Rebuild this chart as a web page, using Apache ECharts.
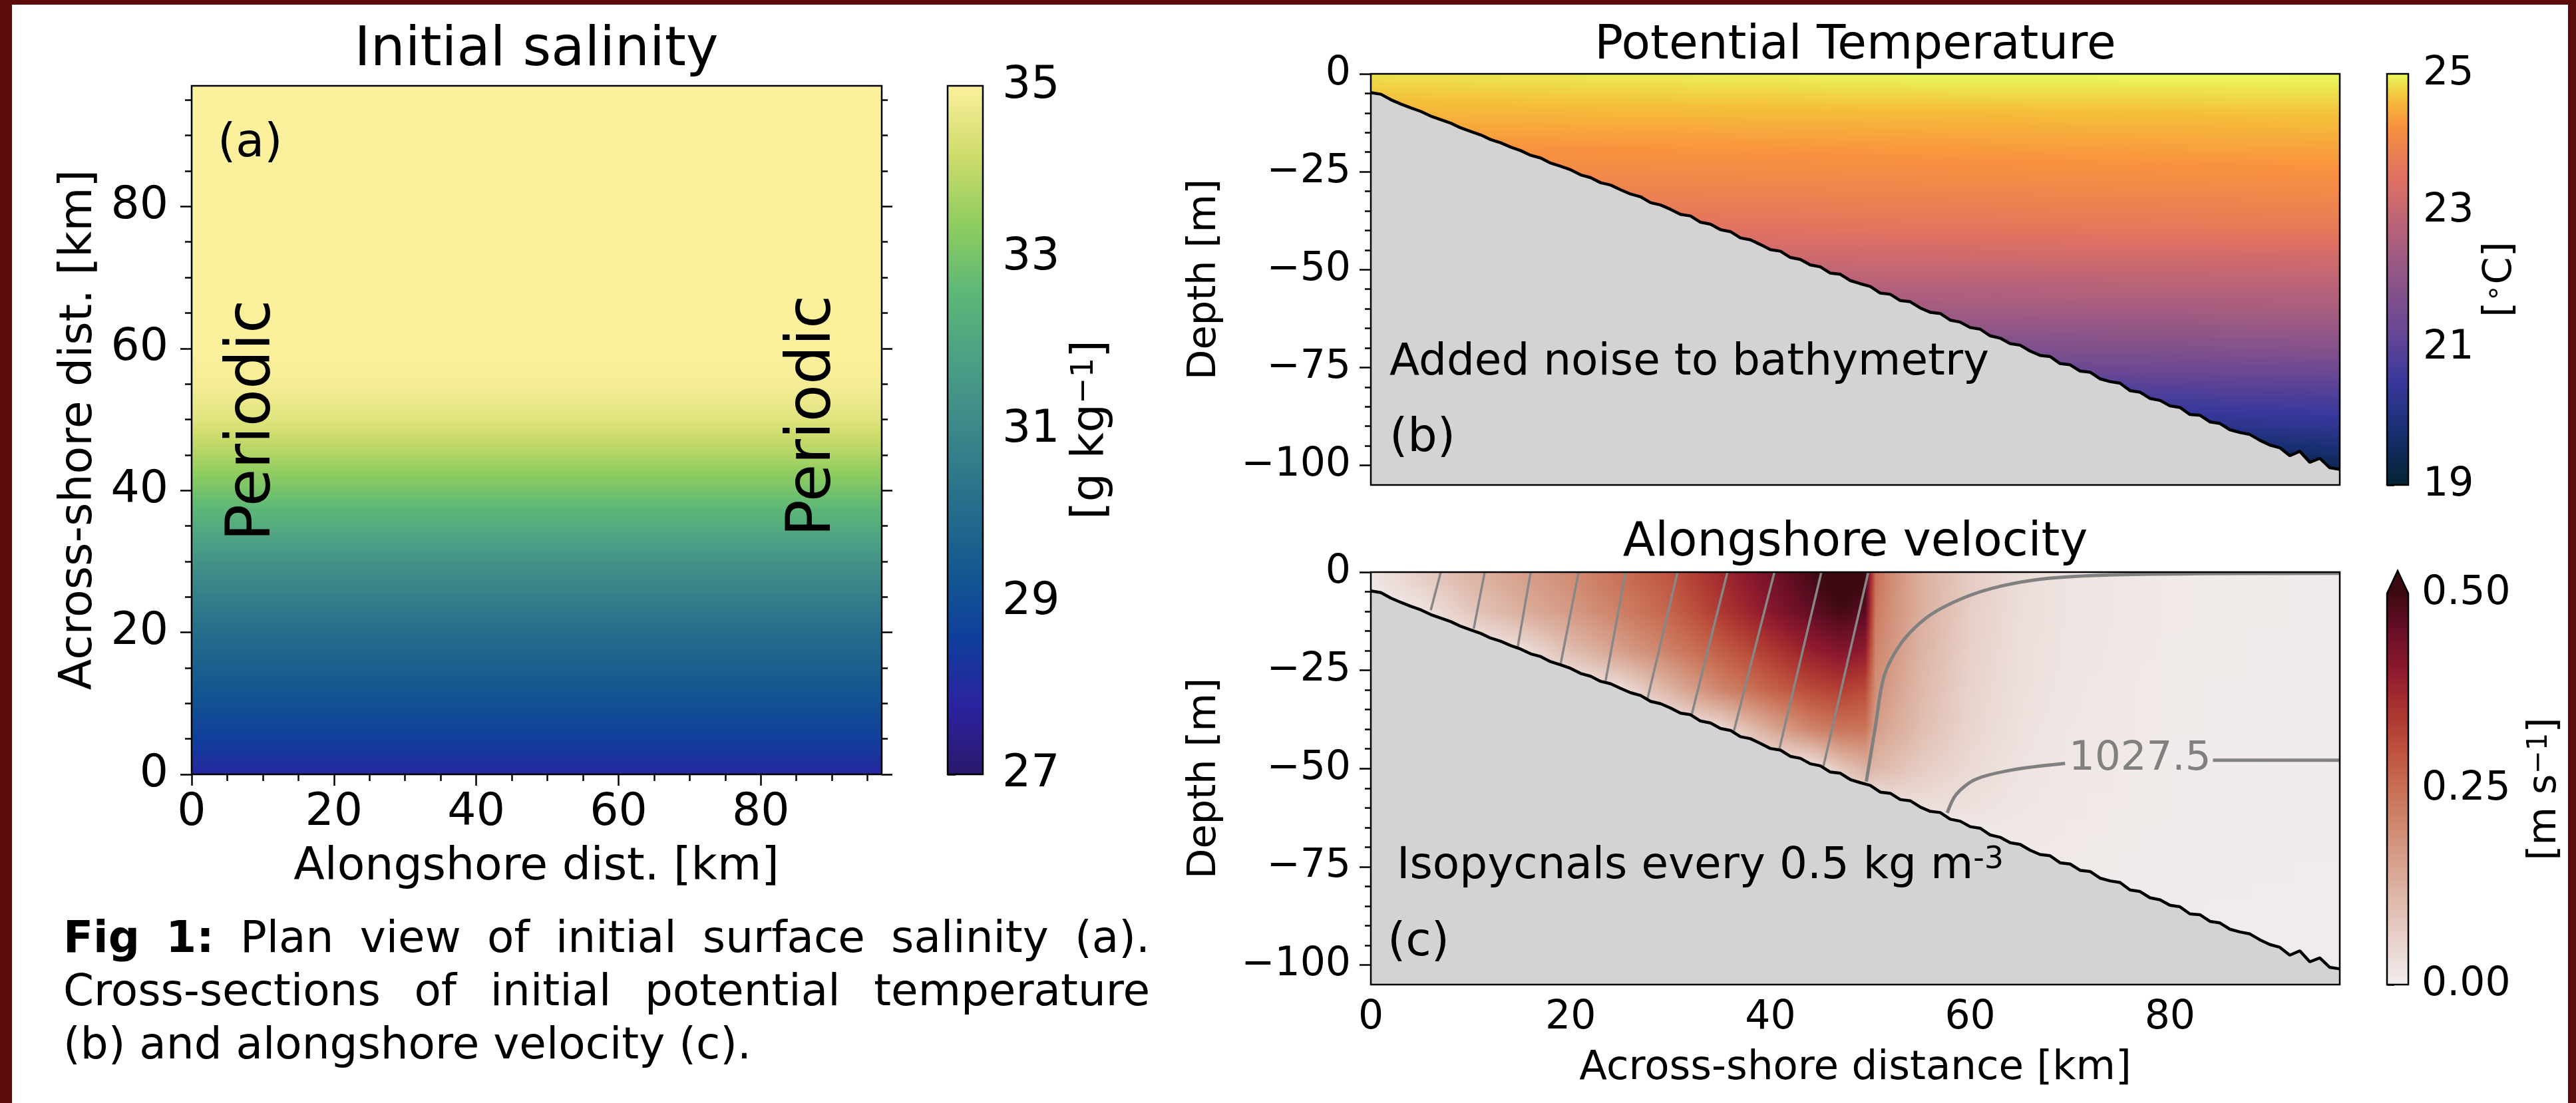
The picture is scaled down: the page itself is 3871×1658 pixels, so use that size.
<!DOCTYPE html>
<html>
<head>
<meta charset="utf-8">
<title>Fig 1</title>
<script src="https://cdn.jsdelivr.net/npm/echarts@6/dist/echarts.min.js"></script>
<style>
html,body{margin:0;padding:0;background:#ffffff;}
#chart{width:3871px;height:1658px;}
</style>
</head>
<body>
<div id="chart"></div>
<script>
// ================= DATA =================
// tick values
const distTicks = [0, 20, 40, 60, 80];
const distMinorTicks = [5, 10, 15, 25, 30, 35, 45, 50, 55, 65, 70, 75, 85, 90, 95];
const depthTicks = [0, -25, -50, -75, -100];
const depthMinorTicks = [-5, -10, -15, -20, -30, -35, -40, -45, -55, -60, -65, -70, -80, -85, -90, -95];
const salTicks = [27, 29, 31, 33, 35];
const tempTicks = [19, 21, 23, 25];
const velTicks = [0, 0.25, 0.5];

// axis extents
const domainKm = [0, 97];
const depthRange = [-105, 0];
const salRange = [27, 35];
const tempRange = [19, 25];
const velRange = [0, 0.5];

// (a) initial surface salinity vs across-shore distance (uniform alongshore)
const salDist = [0, 5, 10, 15, 20, 25, 30, 35, 40, 45, 50, 55, 60, 97];
const salinity = [27.9, 28.6, 29.1, 29.6, 30.1, 30.7, 31.4, 32.2, 33.0, 33.8, 34.5, 34.9, 35.0, 35.0];

// bathymetry (with noise), every 1 km
const bathyDist = [0,1,2,3,4,5,6,7,8,9,10,11,12,13,14,15,16,17,18,19,20,21,22,23,24,25,26,27,28,29,30,31,32,33,34,35,36,37,38,39,40,41,42,43,44,45,46,47,48,49,50,51,52,53,54,55,56,57,58,59,60,61,62,63,64,65,66,67,68,69,70,71,72,73,74,75,76,77,78,79,80,81,82,83,84,85,86,87,88,89,90,91,92,93,94,95,96,97];
const bathyDepth = [-4.8,-5.2,-6.6,-7.7,-8.7,-9.6,-10.8,-11.7,-12.6,-13.8,-14.7,-15.6,-16.8,-17.6,-18.7,-19.6,-20.8,-21.5,-22.8,-23.6,-24.5,-25.8,-26.5,-27.8,-28.4,-29.6,-30.7,-31.4,-32.9,-33.5,-34.6,-35.9,-36.3,-37.9,-38.4,-39.8,-40.3,-41.9,-42.4,-43.6,-44.9,-45.3,-46.9,-47.4,-48.8,-49.3,-50.9,-51.2,-52.8,-53.6,-54.3,-56.0,-56.3,-57.9,-58.2,-59.8,-60.9,-61.2,-62.9,-63.4,-64.8,-65.2,-66.9,-67.5,-68.9,-69.3,-70.8,-71.9,-72.2,-74.0,-74.3,-75.9,-76.2,-77.9,-78.6,-79.0,-80.9,-81.3,-82.9,-83.4,-84.8,-85.2,-87.0,-87.2,-88.9,-89.3,-90.9,-91.6,-92.1,-93.6,-94.8,-95.5,-97.5,-96.4,-99.2,-98.2,-100.6,-101.0];

// (b) potential temperature [degC]; rows = depth, columns = across-shore distance
const tempDist = [0, 20, 40, 60, 80, 97];
const tempDepth = [0, -10, -20, -30, -40, -50, -60, -70, -80, -90, -100, -105];
const temperature = [
  [24.85, 24.90, 24.95, 25.00, 25.00, 25.00],
  [24.55, 24.58, 24.60, 24.62, 24.65, 24.68],
  [24.20, 24.22, 24.25, 24.30, 24.35, 24.38],
  [23.85, 23.88, 23.92, 23.97, 24.02, 24.06],
  [23.45, 23.48, 23.52, 23.58, 23.64, 23.68],
  [22.90, 22.92, 22.95, 22.98, 23.02, 23.05],
  [22.30, 22.32, 22.35, 22.40, 22.45, 22.50],
  [21.60, 21.62, 21.65, 21.70, 21.78, 21.85],
  [20.80, 20.80, 20.85, 20.90, 20.95, 21.00],
  [19.95, 19.95, 20.00, 20.05, 20.15, 20.30],
  [19.20, 19.20, 19.20, 19.25, 19.30, 19.45],
  [19.00, 19.00, 19.00, 19.00, 19.05, 19.10]
];

// (c) alongshore velocity [m/s]; rows = depth, columns = across-shore distance
const velDist = [0, 5, 10, 15, 20, 25, 30, 35, 40, 44, 47, 49.5, 50.5, 52, 55, 60, 65, 70, 80, 97];
const velDepth = [0, -10, -20, -30, -40, -50, -60, -70, -105];
const velocity = [
  [0.02, 0.07, 0.12, 0.16, 0.20, 0.25, 0.30, 0.37, 0.44, 0.49, 0.54, 0.51, 0.25, 0.20, 0.13, 0.070, 0.035, 0.020, 0.008, 0.004],
  [0.00, 0.02, 0.08, 0.13, 0.17, 0.22, 0.27, 0.34, 0.41, 0.46, 0.49, 0.47, 0.23, 0.19, 0.13, 0.065, 0.033, 0.019, 0.008, 0.004],
  [0.00, 0.00, 0.00, 0.03, 0.10, 0.16, 0.22, 0.28, 0.34, 0.39, 0.42, 0.40, 0.21, 0.18, 0.12, 0.060, 0.030, 0.018, 0.007, 0.004],
  [0.00, 0.00, 0.00, 0.00, 0.00, 0.03, 0.12, 0.21, 0.27, 0.31, 0.33, 0.31, 0.19, 0.16, 0.11, 0.055, 0.028, 0.016, 0.006, 0.004],
  [0.00, 0.00, 0.00, 0.00, 0.00, 0.00, 0.00, 0.04, 0.14, 0.21, 0.24, 0.24, 0.16, 0.14, 0.10, 0.050, 0.025, 0.014, 0.006, 0.004],
  [0.00, 0.00, 0.00, 0.00, 0.00, 0.00, 0.00, 0.00, 0.00, 0.01, 0.08, 0.12, 0.11, 0.10, 0.07, 0.040, 0.020, 0.012, 0.005, 0.003],
  [0.00, 0.00, 0.00, 0.00, 0.00, 0.00, 0.00, 0.00, 0.00, 0.00, 0.00, 0.00, 0.00, 0.02, 0.03, 0.025, 0.015, 0.010, 0.005, 0.003],
  [0.00, 0.00, 0.00, 0.00, 0.00, 0.00, 0.00, 0.00, 0.00, 0.00, 0.00, 0.00, 0.00, 0.00, 0.00, 0.000, 0.010, 0.008, 0.004, 0.003],
  [0.00, 0.00, 0.00, 0.00, 0.00, 0.00, 0.00, 0.00, 0.00, 0.00, 0.00, 0.00, 0.00, 0.00, 0.00, 0.000, 0.000, 0.000, 0.002, 0.002]
];

// isopycnals (every 0.5 kg m^-3): thin near-vertical lines, bottom point -> surface
const isoBottomDist = [6.0, 10.3, 14.7, 19.0, 23.5, 27.7, 32.1, 36.3, 40.9, 45.3];
const isoBottomDepth = [-9.7, -14.4, -19.1, -23.4, -27.7, -32.2, -36.5, -40.9, -45.0, -49.5];
const isoTopDist = [7.0, 11.4, 16.0, 20.8, 25.5, 30.7, 35.7, 40.4, 45.1, 49.8];
// thick curved isopycnal reaching the surface offshore
const isoCurveDist = [49.6, 50.5, 51.4, 53.2, 55.9, 59.5, 63.2, 67.7, 74.0, 83.0, 97.0];
const isoCurveDepth = [-53.3, -39.5, -26.3, -17.7, -11.1, -6.4, -3.5, -1.6, -0.7, -0.4, -0.3];
// 1027.5 isopycnal (broken by its label)
const iso1027LeftDist = [57.7, 58.6, 60.5, 64.1, 69.5];
const iso1027LeftDepth = [-61.3, -56.6, -52.8, -50.4, -48.7];
const iso1027RightDist = [84.3, 97.0];
const iso1027RightDepth = [-47.9, -47.9];
const iso1027Label = {text: '1027.5', dist: 77.0, depth: -47.6};

// ================= COLORMAPS =================
const halineStops = [[0, '#2a186c'], [0.1, '#2b239f'], [0.2, '#0f3f9b'], [0.3, '#145a8f'], [0.4, '#2a6f8b'], [0.5, '#3c8789'], [0.6, '#4b9f85'], [0.7, '#5db777'], [0.8, '#8fcd5f'], [0.9, '#cfdc6c'], [1, '#fbf09c']];
const thermalStops = [[0, '#042333'], [0.125, '#162e6f'], [0.25, '#39389c'], [0.375, '#684794'], [0.5, '#8d5588'], [0.625, '#b7627a'], [0.75, '#e07162'], [0.875, '#f9923f'], [0.94, '#f5be3a'], [1, '#e8fa5b']];
const ampStops = [[0, '#f1eded'], [0.1, '#e9d5cf'], [0.2, '#e0bdb0'], [0.3, '#d8a491'], [0.4, '#d08a72'], [0.5, '#c86f54'], [0.6, '#bd523e'], [0.7, '#ab3330'], [0.8, '#8f1a2e'], [0.9, '#6a0f27'], [1, '#3c0912']];

function makeCmap(stops) {
  const pos = stops.map(s => s[0]);
  const rgb = stops.map(s => [parseInt(s[1].slice(1,3),16), parseInt(s[1].slice(3,5),16), parseInt(s[1].slice(5,7),16)]);
  return function (t) {
    t = Math.max(0, Math.min(1, t));
    let i = 0;
    while (i < pos.length - 2 && t > pos[i + 1]) i++;
    const u = (t - pos[i]) / (pos[i + 1] - pos[i]);
    const a = rgb[i], b = rgb[i + 1];
    return 'rgb(' + Math.round(a[0] + (b[0]-a[0])*u) + ',' + Math.round(a[1] + (b[1]-a[1])*u) + ',' + Math.round(a[2] + (b[2]-a[2])*u) + ')';
  };
}
const haline = makeCmap(halineStops);
const thermal = makeCmap(thermalStops);
const amp = makeCmap(ampStops);

// ================= HELPERS =================
const FONT = 'DejaVu Sans';
const BLACK = '#000000';
const LW = 2.5;

const minusFmt = v => (v < 0 ? '\u2212' + Math.abs(v) : String(v));

function axis(grid, pos, range, ticks, len, label) {
  return {
    type: 'value', gridIndex: grid, position: pos, min: range[0], max: range[1],
    axisLine: {show: false}, splitLine: {show: false},
    axisTick: {show: true, inside: false, length: len, customValues: ticks, lineStyle: {color: BLACK, width: LW}},
    axisLabel: label ? Object.assign({show: true, customValues: ticks, color: BLACK, fontFamily: FONT}, label) : {show: false}
  };
}
function hiddenAxis(grid, range) {
  return {type: 'value', gridIndex: grid, min: range[0], max: range[1], show: false, splitLine: {show: false}};
}

function cellItems(xs, zs, vals) {
  const out = [];
  for (let j = 0; j < zs.length - 1; j++)
    for (let i = 0; i < xs.length - 1; i++)
      out.push([xs[i], zs[j], xs[i+1], zs[j+1], vals[j][i], vals[j][i+1], vals[j+1][i], vals[j+1][i+1]]);
  return out;
}

function fieldRenderer(cmap, range) {
  const span = range[1] - range[0];
  return function (params, api) {
    const pA = api.coord([api.value(0), api.value(1)]);
    const pB = api.coord([api.value(2), api.value(3)]);
    const v00 = api.value(4), v10 = api.value(5), v01 = api.value(6), v11 = api.value(7);
    const left = Math.min(pA[0], pB[0]), right = Math.max(pA[0], pB[0]);
    const top = Math.min(pA[1], pB[1]), bottom = Math.max(pA[1], pB[1]);
    const n = Math.max(1, Math.ceil((bottom - top) / 3));
    const h = (bottom - top) / n;
    const children = [];
    for (let k = 0; k < n; k++) {
      const t = (k + 0.5) / n;
      const vl = v00 + (v01 - v00) * t;
      const vr = v10 + (v11 - v10) * t;
      const stops = [];
      for (let s = 0; s <= 4; s++) {
        const u = s / 4;
        stops.push({offset: u, color: cmap((vl + (vr - vl) * u - range[0]) / span)});
      }
      children.push({
        type: 'rect',
        shape: {x: left, y: top + k * h, width: right - left + 0.8, height: h + 0.8},
        style: {fill: new echarts.graphic.LinearGradient(0, 0, 1, 0, stops)}
      });
    }
    return {type: 'group', children: children};
  };
}

function colorbarRenderer(cmap, withTriangle) {
  return function (params, api) {
    const pA = api.coord([api.value(0), api.value(1)]);
    const pB = api.coord([api.value(2), api.value(3)]);
    const stops = [];
    for (let s = 0; s <= 40; s++) stops.push({offset: s / 40, color: cmap(1 - s / 40)});
    const children = [{
      type: 'rect',
      shape: {x: pA[0], y: pB[1], width: pB[0] - pA[0], height: pA[1] - pB[1]},
      style: {fill: new echarts.graphic.LinearGradient(0, 0, 0, 1, stops)}
    }];
    if (withTriangle) {
      children.push({
        type: 'polygon',
        shape: {points: [[pA[0], pB[1]], [pB[0], pB[1]], [(pA[0] + pB[0]) / 2, pB[1] - 34]]},
        style: {fill: cmap(1)}
      });
    }
    return {type: 'group', children: children};
  };
}

// ================= SERIES =================
const salItems = [];
for (let i = 0; i < salDist.length - 1; i++) {
  salItems.push([domainKm[0], salDist[i], domainKm[1], salDist[i + 1], salinity[i], salinity[i + 1]]);
}
const bathyData = bathyDist.map((x, i) => [x, bathyDepth[i]]);

const series = [];
// (a) salinity field
series.push({
  type: 'custom', xAxisIndex: 0, yAxisIndex: 0, clip: true, z: 2, silent: true,
  data: salItems,
  renderItem: function (params, api) {
    const pBot = api.coord([api.value(0), api.value(1)]);
    const pTop = api.coord([api.value(2), api.value(3)]);
    const s0 = api.value(4), s1 = api.value(5);
    const stops = [];
    for (let k = 0; k <= 8; k++) {
      const u = k / 8;
      const v = s1 + (s0 - s1) * u;
      stops.push({offset: u, color: haline((v - salRange[0]) / (salRange[1] - salRange[0]))});
    }
    return {
      type: 'rect',
      shape: {x: pBot[0], y: pTop[1], width: pTop[0] - pBot[0], height: pBot[1] - pTop[1] + 0.8},
      style: {fill: new echarts.graphic.LinearGradient(0, 0, 0, 1, stops)}
    };
  }
});
// (a) colorbar
series.push({
  type: 'custom', xAxisIndex: 2, yAxisIndex: 4, z: 2, silent: true,
  data: [[0, salRange[0], 1, salRange[1]]],
  renderItem: colorbarRenderer(haline, false)
});
// (b) temperature field
series.push({
  type: 'custom', xAxisIndex: 3, yAxisIndex: 5, clip: true, z: 2, silent: true,
  data: cellItems(tempDist, tempDepth, temperature),
  renderItem: fieldRenderer(thermal, tempRange)
});
// (b) bathymetry
series.push({
  type: 'line', xAxisIndex: 3, yAxisIndex: 5, z: 5, silent: true, symbol: 'none',
  data: bathyData, lineStyle: {color: BLACK, width: 4.5},
  areaStyle: {color: '#d3d3d3', opacity: 1, origin: 'start'}
});
// (b) colorbar
series.push({
  type: 'custom', xAxisIndex: 5, yAxisIndex: 7, z: 2, silent: true,
  data: [[0, tempRange[0], 1, tempRange[1]]],
  renderItem: colorbarRenderer(thermal, false)
});
// (c) velocity field
series.push({
  type: 'custom', xAxisIndex: 6, yAxisIndex: 8, clip: true, z: 2, silent: true,
  data: cellItems(velDist, velDepth, velocity),
  renderItem: fieldRenderer(amp, velRange)
});
// (c) isopycnals
for (let i = 0; i < isoTopDist.length; i++) {
  series.push({
    type: 'line', xAxisIndex: 6, yAxisIndex: 8, z: 3, silent: true, symbol: 'none',
    data: [[isoBottomDist[i], isoBottomDepth[i]], [isoTopDist[i], 0]],
    lineStyle: {color: '#878787', width: 3.5}
  });
}
series.push({
  type: 'line', xAxisIndex: 6, yAxisIndex: 8, z: 3, silent: true, symbol: 'none', smooth: 0.3,
  data: isoCurveDist.map((x, i) => [x, isoCurveDepth[i]]),
  lineStyle: {color: '#808080', width: 5}
});
series.push({
  type: 'line', xAxisIndex: 6, yAxisIndex: 8, z: 3, silent: true, symbol: 'none', smooth: 0.3,
  data: iso1027LeftDist.map((x, i) => [x, iso1027LeftDepth[i]]),
  lineStyle: {color: '#808080', width: 5}
});
series.push({
  type: 'line', xAxisIndex: 6, yAxisIndex: 8, z: 3, silent: true, symbol: 'none',
  data: iso1027RightDist.map((x, i) => [x, iso1027RightDepth[i]]),
  lineStyle: {color: '#808080', width: 5}
});
series.push({
  type: 'custom', xAxisIndex: 6, yAxisIndex: 8, z: 4, silent: true,
  data: [[iso1027Label.dist, iso1027Label.depth]],
  renderItem: function (params, api) {
    const p = api.coord([api.value(0), api.value(1)]);
    return {type: 'text', x: p[0], y: p[1], style: {text: iso1027Label.text, fontSize: 61, fontFamily: FONT, fill: '#808080', align: 'center', verticalAlign: 'middle'}};
  }
});
// (c) bathymetry
series.push({
  type: 'line', xAxisIndex: 6, yAxisIndex: 8, z: 5, silent: true, symbol: 'none',
  data: bathyData, lineStyle: {color: BLACK, width: 4.5},
  areaStyle: {color: '#d3d3d3', opacity: 1, origin: 'start'}
});
// (c) colorbar with max-extension triangle
series.push({
  type: 'custom', xAxisIndex: 8, yAxisIndex: 10, z: 2, silent: true, clip: false,
  data: [[0, velRange[0], 1, velRange[1]]],
  renderItem: colorbarRenderer(amp, true)
});

// ================= LAYOUT =================
const G = {
  a:  {left: 288,  top: 129, width: 1037, height: 1035},
  ca: {left: 1424, top: 129, width: 53,   height: 1035},
  b:  {left: 2060, top: 111, width: 1456, height: 618},
  cb: {left: 3587, top: 111, width: 32,   height: 618},
  c:  {left: 2060, top: 860, width: 1456, height: 620},
  cc: {left: 3587, top: 892, width: 32,   height: 588}
};

const xAxes = [
  axis(0, 'bottom', domainKm, distTicks, 17, {fontSize: 68, margin: 24}),      // 0
  axis(0, 'bottom', domainKm, distMinorTicks, 10, null),                       // 1
  hiddenAxis(1, [0, 1]),                                                        // 2
  axis(2, 'bottom', domainKm, distTicks, 17, null),                            // 3
  axis(2, 'bottom', domainKm, distMinorTicks, 9, null),                        // 4
  hiddenAxis(3, [0, 1]),                                                        // 5
  axis(4, 'bottom', domainKm, distTicks, 17, {fontSize: 60, margin: 20}),      // 6
  axis(4, 'bottom', domainKm, distMinorTicks, 9, null),                        // 7
  hiddenAxis(5, [0, 1])                                                         // 8
];
const yAxes = [
  axis(0, 'left', domainKm, distTicks, 17, {fontSize: 68, margin: 35}),        // 0
  axis(0, 'left', domainKm, distMinorTicks, 10, null),                         // 1
  axis(0, 'right', domainKm, distTicks, 16, null),                             // 2
  axis(0, 'right', domainKm, distMinorTicks, 9, null),                         // 3
  axis(1, 'right', salRange, salTicks, 12, {fontSize: 68, margin: 29}),        // 4
  axis(2, 'left', depthRange, depthTicks, 17, {fontSize: 60, margin: 30, formatter: minusFmt}), // 5
  axis(2, 'left', depthRange, depthMinorTicks, 9, null),                       // 6
  axis(3, 'right', tempRange, tempTicks, 11, {fontSize: 60, margin: 22}),      // 7
  axis(4, 'left', depthRange, depthTicks, 17, {fontSize: 60, margin: 30, formatter: minusFmt}), // 8
  axis(4, 'left', depthRange, depthMinorTicks, 9, null),                       // 9
  axis(5, 'right', velRange, velTicks, 11, {fontSize: 60, margin: 20, formatter: v => v.toFixed(2)}) // 10
];

// ================= GRAPHIC (frames, texts) =================
function frame(g) {
  return {type: 'rect', z: 50, silent: true, shape: {x: g.left, y: g.top, width: g.width, height: g.height},
          style: {fill: 'none', stroke: BLACK, lineWidth: LW}};
}
function txt(text, x, y, size, extra) {
  extra = extra || {};
  const el = {type: 'text', z: 60, silent: true, x: x, y: y,
    style: Object.assign({text: text, fontSize: size, fontFamily: FONT, fill: BLACK, align: 'center', verticalAlign: 'middle'}, extra.style || {})};
  if (extra.rotation != null) el.rotation = extra.rotation;
  return el;
}

const graphics = [];
// figure border
const BORDER = '#5c0b0b';
graphics.push({type: 'rect', z: 70, silent: true, shape: {x: 0, y: 0, width: 18, height: 1658}, style: {fill: BORDER}});
graphics.push({type: 'rect', z: 70, silent: true, shape: {x: 0, y: 0, width: 3871, height: 7}, style: {fill: BORDER}});
graphics.push({type: 'rect', z: 70, silent: true, shape: {x: 3859, y: 0, width: 12, height: 1658}, style: {fill: BORDER}});

// frames
graphics.push(frame(G.a), frame(G.ca), frame(G.b), frame(G.cb), frame(G.c));
graphics.push({type: 'polygon', z: 50, silent: true,
  shape: {points: [[G.cc.left, G.cc.top + G.cc.height], [G.cc.left, G.cc.top], [G.cc.left + G.cc.width / 2, G.cc.top - 34], [G.cc.left + G.cc.width, G.cc.top], [G.cc.left + G.cc.width, G.cc.top + G.cc.height]]},
  style: {fill: 'none', stroke: BLACK, lineWidth: LW}});

// titles
graphics.push(txt('Initial salinity', 806, 77, 82));
graphics.push(txt('Potential Temperature', 2788, 70, 71));
graphics.push(txt('Alongshore velocity', 2788, 817, 71));
// axis names
graphics.push(txt('Alongshore dist. [km]', 806, 1304, 68));
graphics.push(txt('Across-shore dist. [km]', 119, 646, 68, {rotation: Math.PI / 2}));
graphics.push(txt('Depth [m]', 1811, 420, 59, {rotation: Math.PI / 2}));
graphics.push(txt('Depth [m]', 1811, 1170, 59, {rotation: Math.PI / 2}));
graphics.push(txt('Across-shore distance [km]', 2788, 1606, 61));
// colorbar labels
graphics.push(txt('[g kg{sup|\u22121}]', 1640, 646, 68, {rotation: Math.PI / 2,
  style: {rich: {sup: {fontSize: 47, fontFamily: FONT, fill: BLACK, verticalAlign: 'top', lineHeight: 34}}}}));
graphics.push(txt('[{sup|\u2218}C]', 3758, 420, 59, {rotation: Math.PI / 2,
  style: {rich: {sup: {fontSize: 42, fontFamily: FONT, fill: BLACK, verticalAlign: 'top', lineHeight: 30}}}}));
graphics.push(txt('[m s{sup|\u22121}]', 3825, 1186, 59, {rotation: Math.PI / 2,
  style: {rich: {sup: {fontSize: 42, fontFamily: FONT, fill: BLACK, verticalAlign: 'top', lineHeight: 30}}}}));
// annotations
graphics.push(txt('(a)', 327, 217, 70, {style: {align: 'left'}}));
graphics.push(txt('Periodic', 381, 632, 92, {rotation: Math.PI / 2}));
graphics.push(txt('Periodic', 1223, 625, 92, {rotation: Math.PI / 2}));
graphics.push(txt('Added noise to bathymetry', 2088, 546, 66, {style: {align: 'left'}}));
graphics.push(txt('(b)', 2088, 660, 70, {style: {align: 'left'}}));
graphics.push(txt('Isopycnals every 0.5 kg m{sup|-3}', 2099, 1303, 66, {style: {align: 'left',
  rich: {sup: {fontSize: 46, fontFamily: FONT, fill: BLACK, verticalAlign: 'top', lineHeight: 34}}}}));
graphics.push(txt('(c)', 2085, 1418, 70, {style: {align: 'left'}}));

// caption (justified lines)
const CAP = 66;
const mctx = document.createElement('canvas').getContext('2d');
function measure(t, bold) { mctx.font = (bold ? 'bold ' : '') + CAP + 'px "' + FONT + '"'; return mctx.measureText(t).width; }
function justified(words, x0, x1, y) {
  const widths = words.map(w => measure(w.t, w.b));
  const total = widths.reduce((a, b) => a + b, 0);
  const gap = (x1 - x0 - total) / (words.length - 1);
  let x = x0;
  words.forEach((w, i) => {
    graphics.push({type: 'text', z: 60, silent: true, x: x, y: y,
      style: {text: w.t, fontSize: CAP, fontFamily: FONT, fontWeight: w.b ? 'bold' : 'normal', fill: BLACK, align: 'left', verticalAlign: 'middle'}});
    x += widths[i] + gap;
  });
}
justified([{t: 'Fig', b: 1}, {t: '1:', b: 1}, {t: 'Plan'}, {t: 'view'}, {t: 'of'}, {t: 'initial'}, {t: 'surface'}, {t: 'salinity'}, {t: '(a).'}], 95, 1728, 1414);
justified([{t: 'Cross-sections'}, {t: 'of'}, {t: 'initial'}, {t: 'potential'}, {t: 'temperature'}], 95, 1728, 1494);
graphics.push({type: 'text', z: 60, silent: true, x: 95, y: 1574,
  style: {text: '(b) and alongshore velocity (c).', fontSize: CAP, fontFamily: FONT, fill: BLACK, align: 'left', verticalAlign: 'middle'}});

// ================= OPTION =================
const option = {
  animation: false,
  backgroundColor: '#ffffff',
  textStyle: {fontFamily: FONT},
  grid: [G.a, G.ca, G.b, G.cb, G.c, G.cc].map(g => Object.assign({containLabel: false, show: false}, g)),
  xAxis: xAxes,
  yAxis: yAxes,
  series: series,
  graphic: {elements: graphics}
};

const chart = echarts.init(document.getElementById('chart'), null, {renderer: 'canvas', width: 3871, height: 1658});
chart.setOption(option);
</script>
</body>
</html>
